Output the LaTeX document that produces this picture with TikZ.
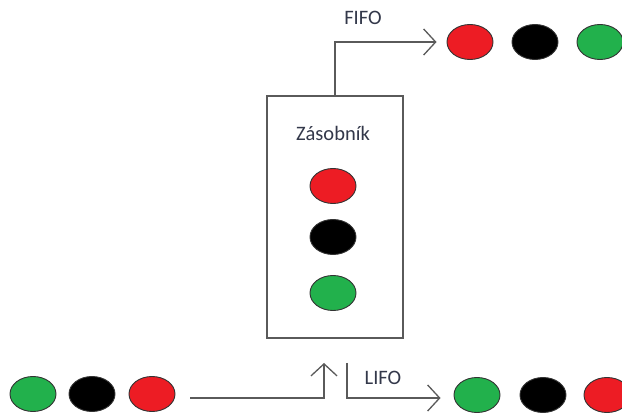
\documentclass[tikz,border=0pt]{standalone}
\usepackage{fontspec}
\setmainfont{Carlito}
\usetikzlibrary{shapes.geometric,arrows.meta}
\definecolor{ballred}{HTML}{ED1C24}
\definecolor{ballgreen}{HTML}{22B14C}
\definecolor{lineg}{HTML}{5A5A5A}
\definecolor{txt}{HTML}{33384A}
\tikzset{
  ball/.style={ellipse, draw=black!80, line width=0.9pt, minimum width=46pt, minimum height=35pt, inner sep=0pt},
  redball/.style={ball, fill=ballred},
  blackball/.style={ball, fill=black},
  greenball/.style={ball, fill=ballgreen},
  conn/.style={draw=lineg, line width=1.5pt, -{Straight Barb[length=12pt,width=26pt,line width=1.3pt]}},
  lbl/.style={text=txt, font=\fontsize{20.5}{24}\selectfont, inner sep=0pt},
  stackbox/.style={draw=lineg, line width=1.5pt, minimum width=136pt, minimum height=242pt, inner sep=0pt}
}
\begin{document}
\begin{tikzpicture}[x=1pt,y=-1pt]
\useasboundingbox[fill=white] (0,0) rectangle (622,414);
% stack box
\node[stackbox] (box) at (335,217) {};
\node[lbl] (title) at (333,133) {Zásobník};
\node[redball] (s1) at (333,186) {};
\node[blackball] (s2) at (333,237) {};
\node[greenball] (s3) at (333,293) {};
% FIFO output
\node[redball] (f1) at (470,42) {};
\node[blackball] (f2) at (535,42) {};
\node[greenball] (f3) at (600,42) {};
\node[lbl] (fifo) at (363,18) {FIFO};
\coordinate (ftop) at (335,96);
\draw[conn, shorten >=10pt] (ftop) |- (f1.west);
% input
\node[greenball] (i1) at (33,394) {};
\node[blackball] (i2) at (92,394) {};
\node[redball] (i3) at (152,394) {};
\coordinate (inb) at (324,338);
\draw[conn, shorten <=15pt, shorten >=25pt] (i3.east |- 0,398) -| (inb);
% LIFO output
\node[greenball] (l1) at (477,395) {};
\node[blackball] (l2) at (543,395) {};
\node[redball] (l3) at (607,395) {};
\node[lbl] (lifo) at (383,378) {LIFO};
\coordinate (lb) at (347,338);
\draw[conn, shorten <=25pt, shorten >=13pt] (lb) |- (l1.west |- 0,398);
\end{tikzpicture}
\end{document}
